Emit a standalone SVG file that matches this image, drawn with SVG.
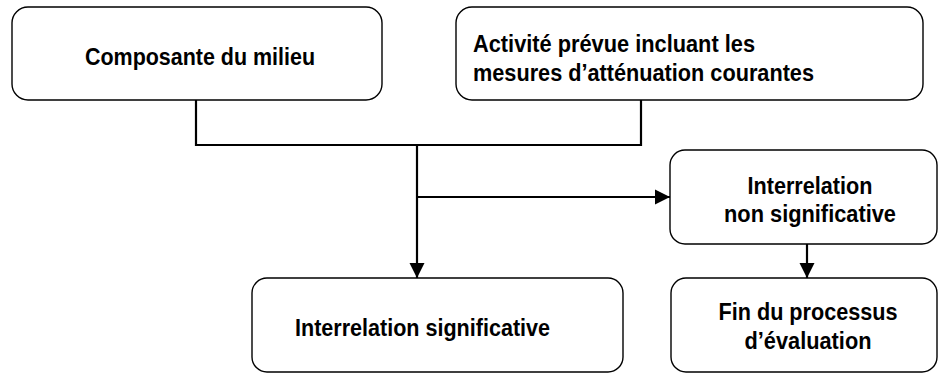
<svg xmlns="http://www.w3.org/2000/svg" width="940" height="373" viewBox="0 0 940 373">
<style>
.box{fill:#fff;stroke:#000;stroke-width:1.4}
.t{font-family:"Liberation Sans",Arial,sans-serif;font-weight:bold;font-size:23.5px;fill:#000}
.c{text-anchor:middle}
.ln{fill:none;stroke:#000;stroke-width:2.2}
</style>
<defs>
<marker id="ah" markerUnits="userSpaceOnUse" markerWidth="16" markerHeight="16" viewBox="0 0 16 16" refX="15" refY="8" orient="auto">
<path d="M0,0.5 L15,8 L0,15.5 Z" fill="#000"/>
</marker>
</defs>
<rect width="940" height="373" fill="#fff"/>
<g id="connectors">
<polyline class="ln" points="196,100 196,145 641,145 641,100"/>
<line class="ln" x1="417" y1="145" x2="417" y2="278" marker-end="url(#ah)"/>
<line class="ln" x1="417" y1="197" x2="670" y2="197" marker-end="url(#ah)"/>
<line class="ln" x1="807" y1="244" x2="807" y2="278" marker-end="url(#ah)"/>
</g>
<g id="n1">
<rect class="box" x="12" y="7" width="370" height="93" rx="16"/>
<text class="t c" x="200" y="65" textLength="230" lengthAdjust="spacingAndGlyphs">Composante du milieu</text>
</g>
<g id="n2">
<rect class="box" x="456" y="7" width="467" height="93" rx="16"/>
<text class="t" x="473" y="52" textLength="282" lengthAdjust="spacingAndGlyphs">Activité prévue incluant les</text>
<text class="t" x="473" y="81" textLength="341" lengthAdjust="spacingAndGlyphs">mesures d’atténuation courantes</text>
</g>
<g id="n3">
<rect class="box" x="670" y="150" width="267" height="94" rx="15"/>
<text class="t c" x="810" y="194" textLength="125" lengthAdjust="spacingAndGlyphs">Interrelation</text>
<text class="t c" x="810" y="222" textLength="172" lengthAdjust="spacingAndGlyphs">non significative</text>
</g>
<g id="n4">
<rect class="box" x="671" y="278" width="266" height="94" rx="15"/>
<text class="t c" x="808" y="320" textLength="179" lengthAdjust="spacingAndGlyphs">Fin du processus</text>
<text class="t c" x="808" y="349" textLength="127" lengthAdjust="spacingAndGlyphs">d’évaluation</text>
</g>
<g id="n5">
<rect class="box" x="252" y="278" width="371" height="94" rx="15"/>
<text class="t" x="295" y="336" textLength="255" lengthAdjust="spacingAndGlyphs">Interrelation significative</text>
</g>
</svg>
